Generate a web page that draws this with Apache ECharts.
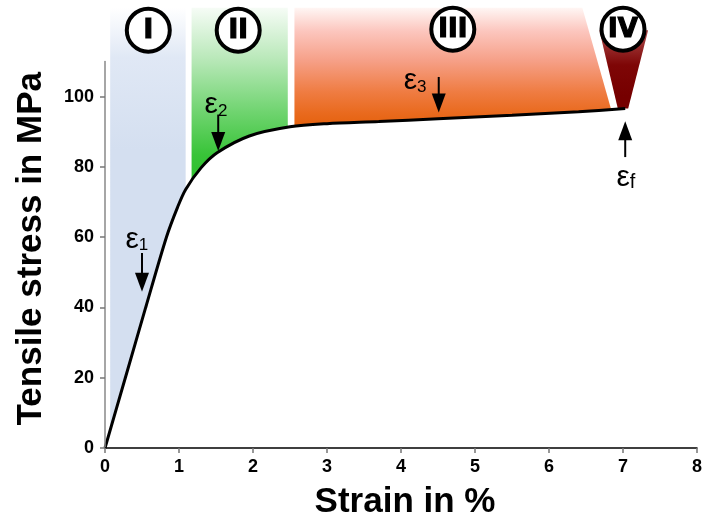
<!DOCTYPE html>
<html><head><meta charset="utf-8">
<script src="https://cdn.jsdelivr.net/npm/echarts@6/dist/echarts.min.js"></script>
<style>html,body{margin:0;padding:0;background:#fff}#c{width:705px;height:525px}</style>
</head><body><div id="c"></div>
<script>
// ---- data ----
const strain = [0, 0.275, 0.55, 0.83, 0.98, 1.09, 1.30, 1.52, 1.95, 2.50, 3.00, 3.70, 4.50, 5.50, 6.40, 7.03];
const stress = [0, 20, 40, 60, 68.5, 73.6, 79.8, 84.1, 88.8, 91.4, 92.3, 92.9, 93.7, 94.7, 95.7, 96.6];
const xTicks = [0, 1, 2, 3, 4, 5, 6, 7, 8];
const yTicks = [0, 20, 40, 60, 80, 100];
const stageNames = ['I', 'II', 'III', 'IV'];
const stageStrain = [0.585, 1.80, 4.70, 7.00];
const stageStress = [118.9, 118.9, 119.2, 119.2];
const bandLeft = [0.07, 1.17, 2.56];
const bandRightTop = [1.09, 2.47, 6.45];
const bandRightBottom = [1.09, 2.47, 6.84];
const bandTopStress = 125.3;
const stageIVStrain = [6.68, 6.93, 7.07, 7.34];
const stageIVStress = [118.9, 96.6, 96.6, 118.9];
const markerSubs = ['1', '2', '3', 'f'];
const arrowStrain = [0.5, 1.53, 4.51, 7.03];
const arrowFrom = [55.5, 94.9, 105.6, 82.8];
const arrowTo = [44.5, 84.5, 95.5, 93.0];
const labelStrain = [0.43, 1.50, 4.19, 7.04];
const labelStress = [59.4, 97.7, 104.5, 76.9];

// ---- styles ----
const FONT = '"Liberation Sans", Arial, sans-serif';
const bandGradEnd = [85, 76, 92];
const bandStops = [
  [{offset:0,color:'#ffffff'},{offset:0.35,color:'#e0e8f5'},{offset:1,color:'#d4dff0'}],
  [{offset:0,color:'#f6fcf6'},{offset:0.3,color:'#b8e8b8'},{offset:0.6,color:'#70d470'},{offset:0.85,color:'#38c438'},{offset:1,color:'#2ebf2e'}],
  [{offset:0,color:'#fff6f4'},{offset:0.2,color:'#fcc6be'},{offset:0.45,color:'#f6a088'},{offset:0.72,color:'#ef7c42'},{offset:0.9,color:'#e96a1e'},{offset:1,color:'#e5620f'}]
];

function curveAt(x) {
  for (let i = 1; i < strain.length; i++) {
    if (x <= strain[i]) {
      const t = (x - strain[i-1]) / (strain[i] - strain[i-1]);
      return stress[i-1] + t * (stress[i] - stress[i-1]);
    }
  }
  return stress[stress.length - 1];
}

const chart = echarts.init(document.getElementById('c'), null, {renderer: 'canvas'});

function renderBand(params, api) {
  const i = params.dataIndex;
  const l = bandLeft[i], rt = bandRightTop[i], rb = bandRightBottom[i];
  const pts = [[l, bandTopStress], [rt, bandTopStress], [rb, curveAt(rb)], [rb, 0], [l, 0]].map(p => api.coord(p));
  const yTop = api.coord([0, bandTopStress])[1];
  const yEnd = api.coord([0, bandGradEnd[i]])[1];
  return {type: 'polygon', shape: {points: pts},
    style: {fill: new echarts.graphic.LinearGradient(0, yTop, 0, yEnd, bandStops[i], true)}};
}

function renderStageIV(params, api) {
  const pts = stageIVStrain.map((x, k) => api.coord([x, stageIVStress[k]]));
  const yTop = api.coord([0, 118])[1];
  const yEnd = api.coord([0, 100])[1];
  return {type: 'polygon', shape: {points: pts},
    style: {fill: new echarts.graphic.LinearGradient(0, yTop, 0, yEnd,
      [{offset:0,color:'#a84646'},{offset:0.5,color:'#7e0606'},{offset:1,color:'#760000'}], true)}};
}

function renderArrow(params, api) {
  const p0 = api.coord([api.value(0), api.value(1)]);
  const p1 = api.coord([api.value(0), api.value(2)]);
  const dir = Math.sign(p1[1] - p0[1]);
  const headLen = 19, headHalf = 7;
  const base = p1[1] - dir * headLen;
  return {type: 'group', children: [
    {type: 'line', shape: {x1: p0[0], y1: p0[1], x2: p0[0], y2: base + dir * 2}, style: {stroke: '#000', lineWidth: 2}},
    {type: 'polygon', shape: {points: [[p1[0] - headHalf, base], [p1[0] + headHalf, base], [p1[0], p1[1]]]}, style: {fill: '#000'}}
  ]};
}

function renderCircle(params, api) {
  const p = api.coord([api.value(0), api.value(1)]);
  const name = stageNames[params.dataIndex];
  return {type: 'group', children: [
    {type: 'circle', shape: {cx: p[0], cy: p[1], r: 21.5}, style: {fill: '#fff', stroke: '#000', lineWidth: 4}},
    {type: 'text', x: p[0], y: p[1] + 1, style: {text: name, fill: '#000', stroke: '#000', lineWidth: 1.2,
      font: 'bold 26px "DejaVu Sans", sans-serif', align: 'center', verticalAlign: 'middle'}}
  ]};
}

function renderLabel(params, api) {
  const p = api.coord([api.value(0), api.value(1)]);
  const sub = markerSubs[params.dataIndex];
  const isF = sub === 'f';
  return {type: 'text', x: p[0], y: p[1], style: {
    text: '{e|ε}{s|' + sub + '}', align: 'center', verticalAlign: 'middle',
    rich: {
      e: {fontSize: 30, fontFamily: FONT, fill: '#000', lineHeight: 30},
      s: {fontSize: isF ? 20 : 17, fontFamily: FONT, fill: '#000', lineHeight: isF ? 12 : 17, verticalAlign: 'bottom'}
    }}};
}

const option = {
  backgroundColor: '#fff',
  animation: false,
  grid: {left: 105, right: 8, top: 61.5, bottom: 73},
  xAxis: {
    type: 'value', min: 0, max: 8, interval: 1, z: 10,
    axisLine: {show: true, lineStyle: {color: '#000', width: 1.5}},
    axisTick: {show: true, length: 5, lineStyle: {color: '#777', width: 1.5}},
    axisLabel: {fontSize: 18, fontWeight: 'bold', color: '#000', fontFamily: FONT, margin: 10,
      customValues: xTicks},
    splitLine: {show: false},
    name: 'Strain in %', nameLocation: 'middle', nameGap: 37,
    nameTextStyle: {fontSize: 35, fontWeight: 'bold', color: '#000', fontFamily: FONT, padding: [0, 0, 0, 8]}
  },
  yAxis: {
    type: 'value', min: 0, max: 110, interval: 20, z: 10,
    axisLine: {show: true, lineStyle: {color: '#888', width: 1.5}},
    axisTick: {show: true, length: 5, lineStyle: {color: '#777', width: 1.5}, customValues: yTicks},
    axisLabel: {fontSize: 18, fontWeight: 'bold', color: '#000', fontFamily: FONT, margin: 11,
      customValues: yTicks},
    splitLine: {show: false},
    name: 'Tensile stress in MPa', nameLocation: 'middle', nameGap: 56, nameRotate: 90,
    nameTextStyle: {fontSize: 35, fontWeight: 'bold', color: '#000', fontFamily: FONT, padding: [0, 0, 0, 12]}
  },
  series: [
    {type: 'custom', z: 1, renderItem: renderBand, clip: false,
      data: bandLeft.map((l, i) => [l, bandTopStress])},
    {type: 'custom', z: 2, renderItem: renderStageIV, clip: false,
      data: [[stageIVStrain[0], stageIVStress[0]]]},
    {type: 'line', z: 3, data: strain.map((x, i) => [x, stress[i]]), smooth: 0.3,
      symbol: 'none', lineStyle: {color: '#000', width: 3}, areaStyle: {color: '#fff', opacity: 1}, clip: false},
    {type: 'custom', z: 4, renderItem: renderArrow, clip: false,
      data: arrowStrain.map((x, i) => [x, arrowFrom[i], arrowTo[i]])},
    {type: 'custom', z: 5, renderItem: renderLabel, clip: false,
      data: labelStrain.map((x, i) => [x, labelStress[i]])},
    {type: 'custom', z: 6, renderItem: renderCircle, clip: false,
      data: stageStrain.map((x, i) => [x, stageStress[i]])}
  ]
};
chart.setOption(option);
</script>
</body></html>
